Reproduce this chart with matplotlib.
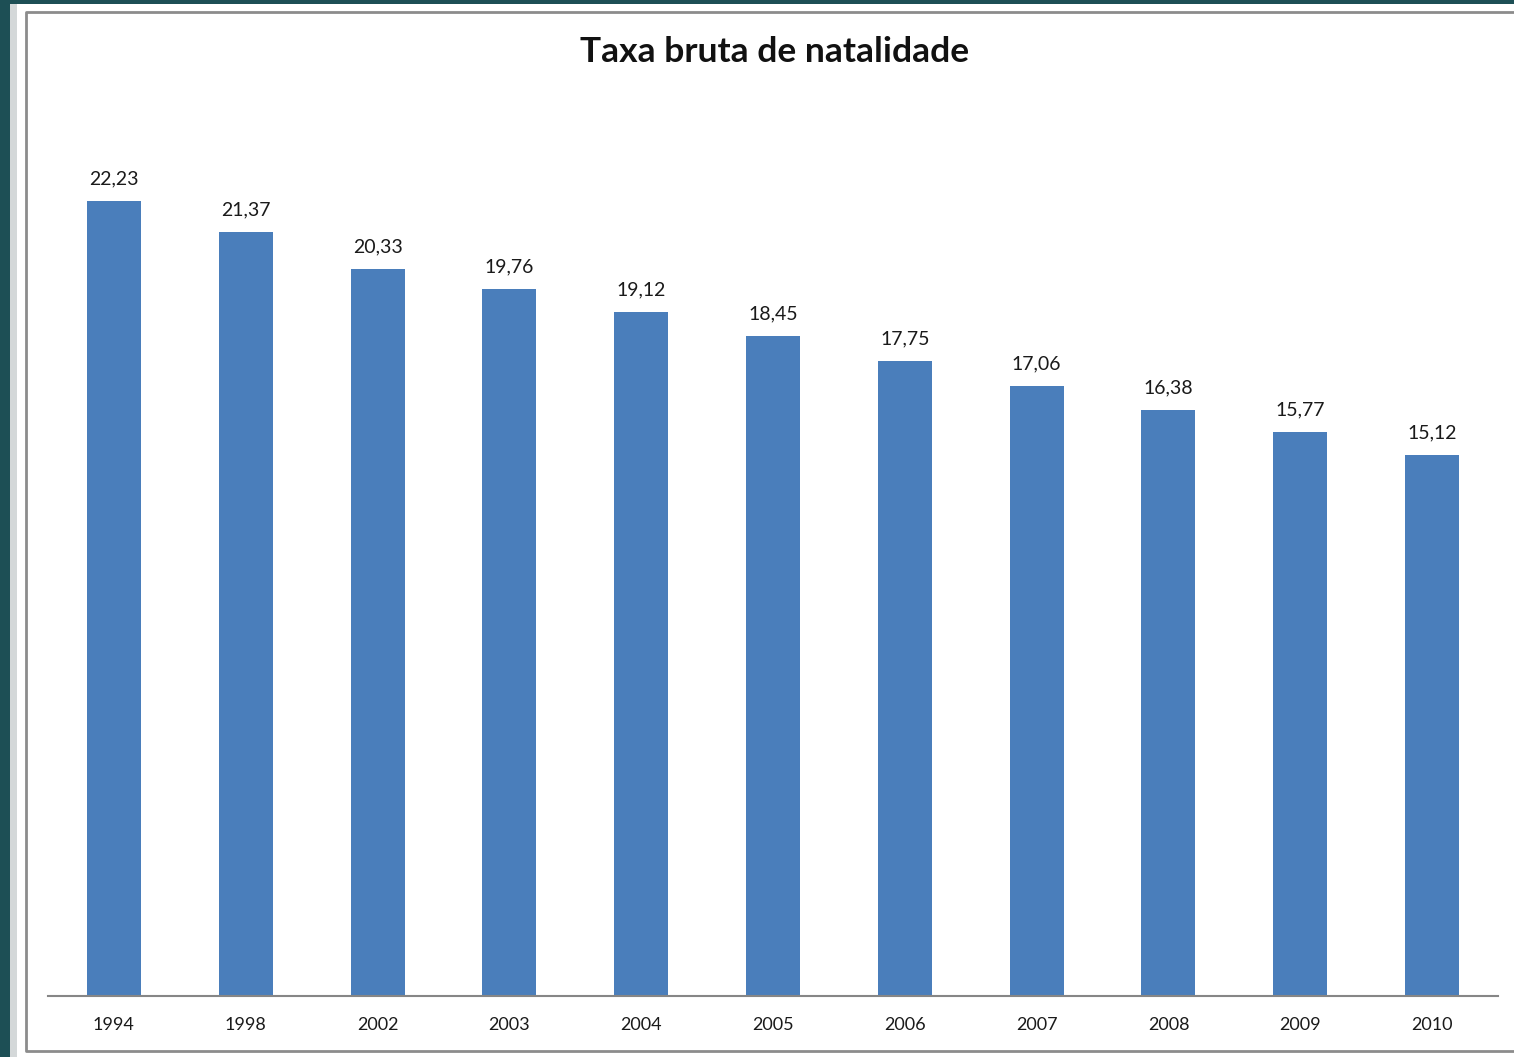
import matplotlib.pyplot as plt
from matplotlib.patches import Rectangle
from matplotlib.lines import Line2D

anos = ["1994", "1998", "2002", "2003", "2004", "2005", "2006", "2007", "2008", "2009", "2010"]
taxa = [22.23, 21.37, 20.33, 19.76, 19.12, 18.45, 17.75, 17.06, 16.38, 15.77, 15.12]
rotulos = ["22,23", "21,37", "20,33", "19,76", "19,12", "18,45", "17,75", "17,06", "16,38", "15,77", "15,12"]

W, H = 1514, 1057
fig = plt.figure(figsize=(W / 100, H / 100), dpi=100)
fig.patch.set_facecolor("#1d4f55")

# fundo do slide / moldura do gráfico
fig.add_artist(Rectangle((10 / W, 0), 8 / W, 1 - 4 / H, transform=fig.transFigure,
                         facecolor="#d4d8d9", edgecolor="none", zorder=-3))
fig.add_artist(Rectangle((17 / W, 0), 1, 1 - 4 / H, transform=fig.transFigure,
                         facecolor="white", edgecolor="none", zorder=-2))
moldura_x = [1.0, 26 / W, 26 / W, 1.0]
moldura_y = [1 - 12 / H, 1 - 12 / H, 1 - 1051 / H, 1 - 1051 / H]
fig.add_artist(Line2D(moldura_x, moldura_y, transform=fig.transFigure,
                      color="#8c8c8c", linewidth=2, zorder=-1))

ax = fig.add_axes([48 / W, (H - 996) / H, 1450 / W, 894 / H])
ax.set_zorder(5)
ax.set_facecolor("none")
x = range(len(anos))
bars = ax.bar(x, taxa, width=0.41, color="#4a7ebb", zorder=2)
for b, r in zip(bars, rotulos):
    ax.text(b.get_x() + b.get_width() / 2, b.get_height() + 0.38, r,
            ha="center", va="bottom", fontsize=14, family="Lato", color="#1a1a1a")

ax.set_xlim(-0.5, 10.5)
ax.set_ylim(0, 25)
ax.set_xticks(list(x))
ax.set_xticklabels(anos, fontsize=13, family="Lato", color="#1a1a1a")
ax.tick_params(axis="x", length=0, pad=15)
ax.set_yticks([])
for s in ["top", "right", "left"]:
    ax.spines[s].set_visible(False)
ax.spines["bottom"].set_color("#868686")
ax.spines["bottom"].set_linewidth(1.5)

fig.text(775 / W, 1 - 52 / H, "Taxa bruta de natalidade", ha="center", va="center",
         fontsize=25.5, fontweight="bold", family="Lato", color="#111111")

fig.savefig("out.png", dpi=100)
